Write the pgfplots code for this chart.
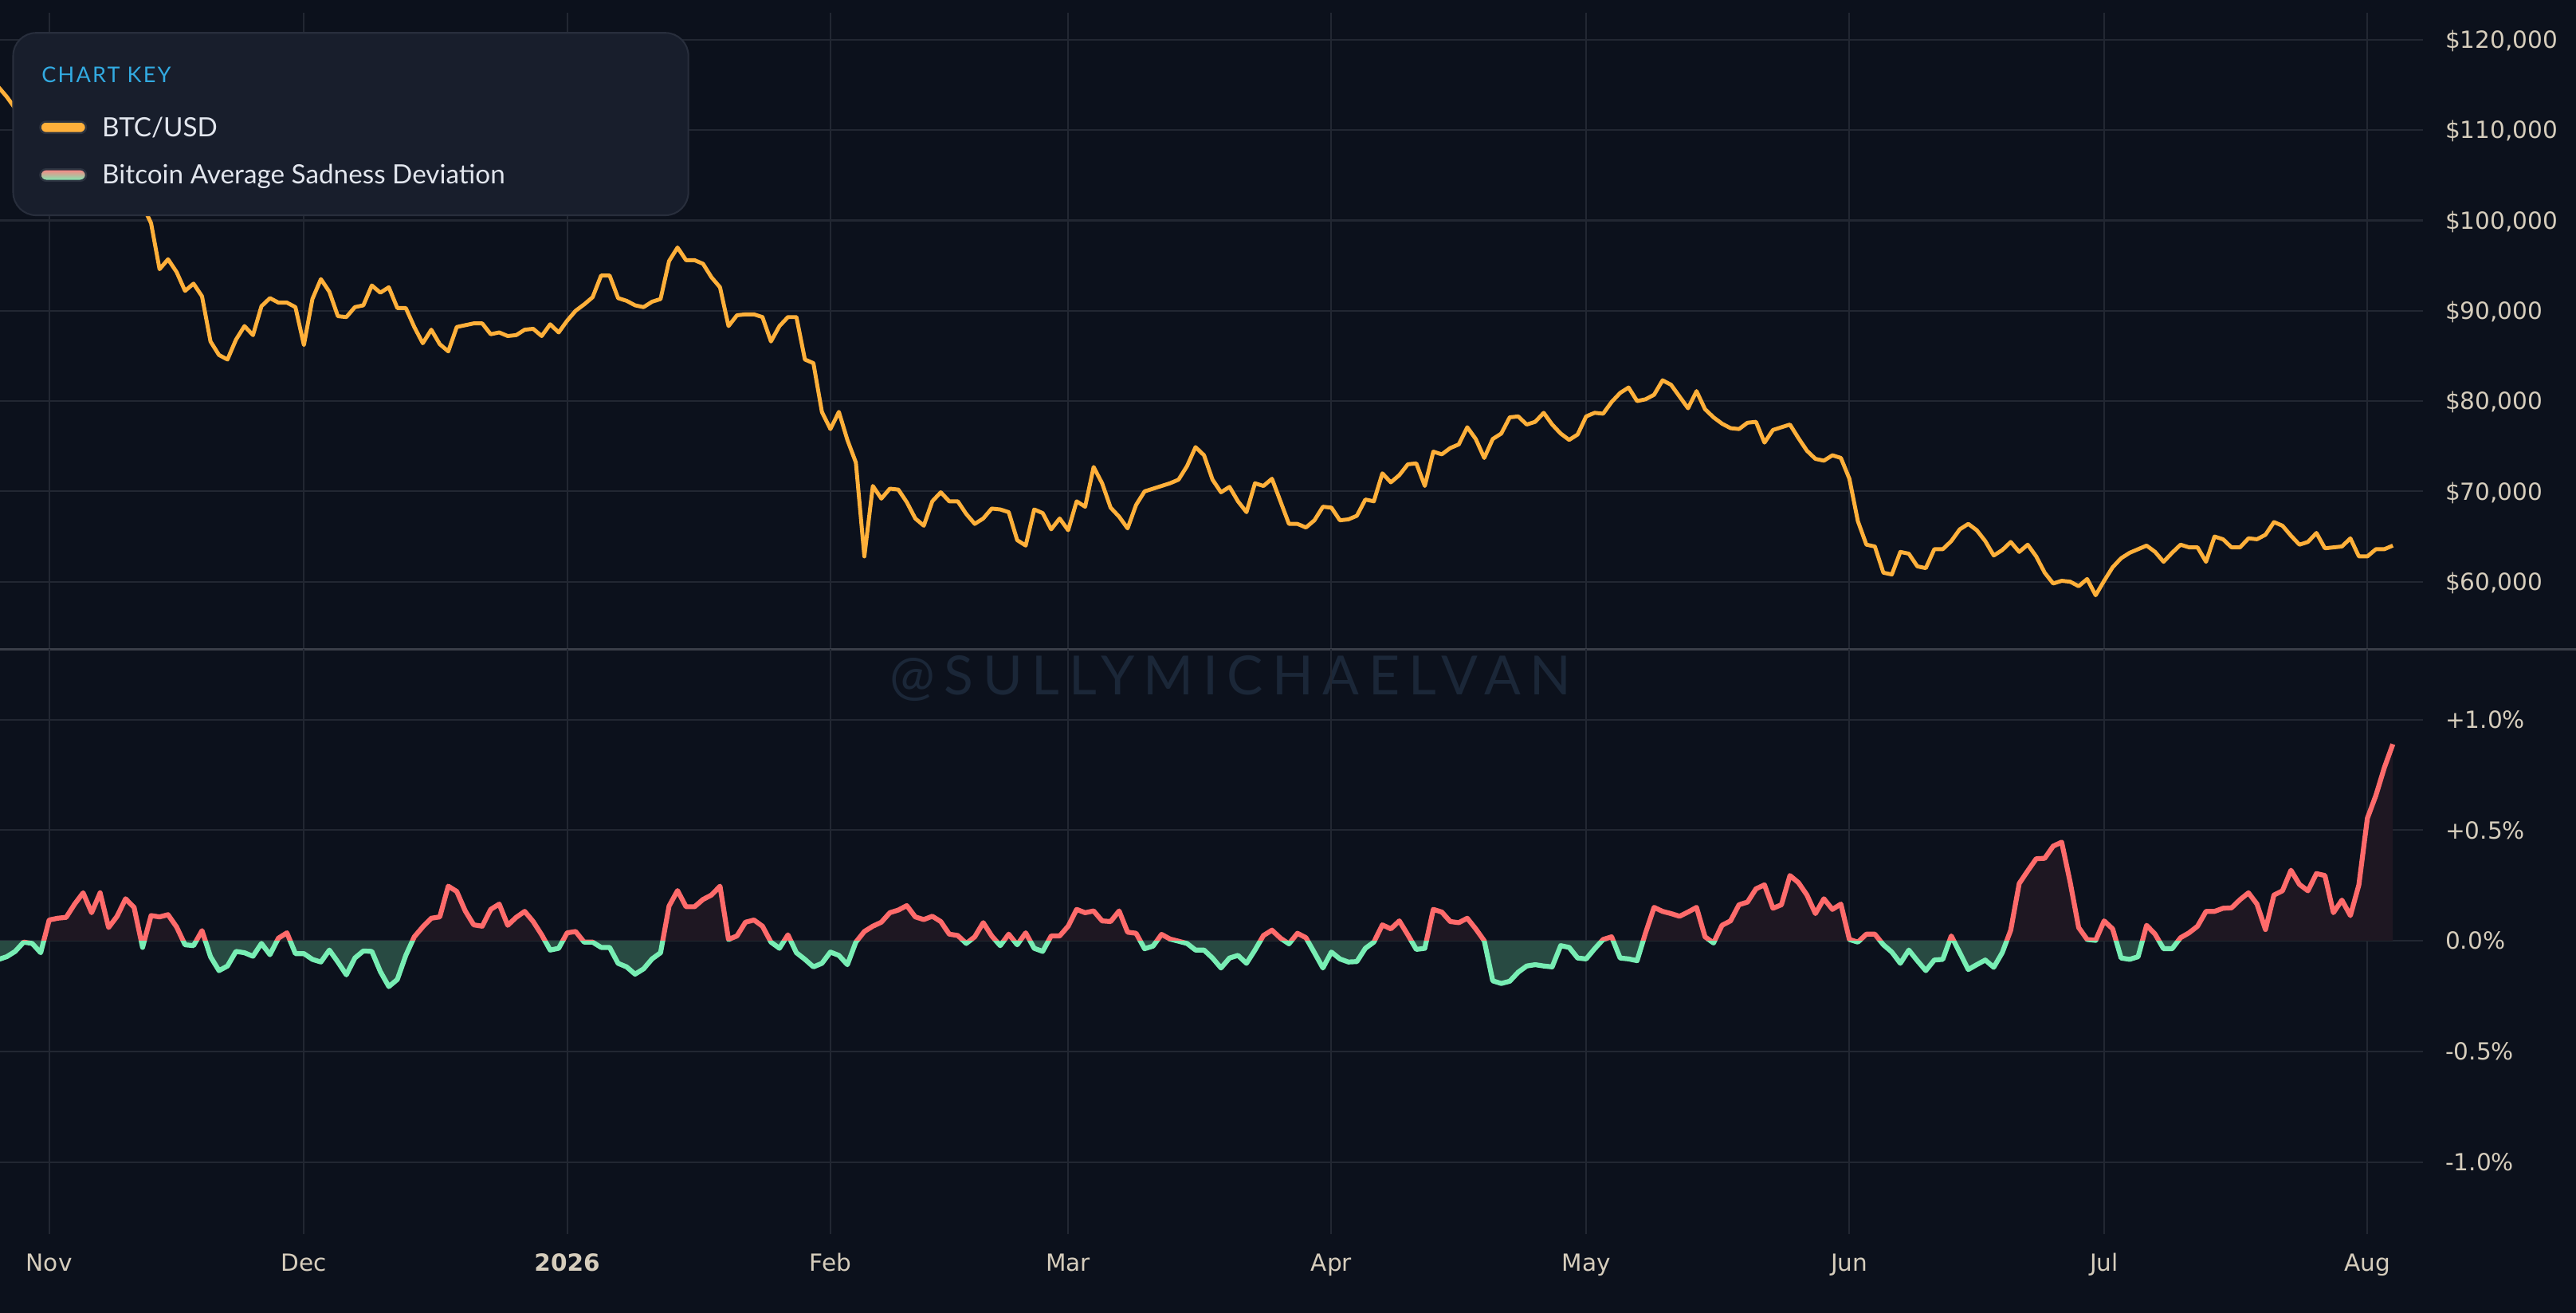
\documentclass[border=0pt]{standalone}
\usepackage{fontspec}
\usepackage{pgfplots}
\usepackage{pgfplotstable}
\pgfplotsset{compat=1.18}
\newfontfamily\tickfont{DejaVu Sans}
\newfontfamily\legfont{Lato}
\definecolor{bgcol}{RGB}{12,17,28}
\definecolor{gridcol}{RGB}{34,39,50}
\definecolor{sepcol}{RGB}{58,62,72}
\definecolor{tickcol}{RGB}{214,205,188}
\definecolor{btccol}{RGB}{255,176,58}
\definecolor{poscol}{RGB}{255,107,107}
\definecolor{negcol}{RGB}{120,238,180}
\definecolor{posfill}{RGB}{30,23,34}
\definecolor{negfill}{RGB}{40,74,66}
\definecolor{legfill}{RGB}{24,30,44}
\definecolor{legborder}{RGB}{40,46,60}
\definecolor{pillborder}{RGB}{44,51,64}
\definecolor{keyblue}{RGB}{50,170,225}
\definecolor{legtext}{RGB}{226,230,238}
\definecolor{wmcol}{RGB}{27,39,56}

\pgfplotstableread{
day price
-6 114.8
-5 113.7
-4 112.4
-3 110.5
-2 109.8
-1 110.2
0 110.1
1 110.6
2 106.5
3 101.8
4 103.9
5 101.8
6 103.3
7 102.3
8 104.7
9 105.9
10 103.0
11 101.7
12 99.7
13 94.6
14 95.7
15 94.3
16 92.2
17 93.0
18 91.6
19 86.6
20 85.1
21 84.6
22 86.8
23 88.3
24 87.3
25 90.5
26 91.4
27 90.9
28 90.9
29 90.4
30 86.2
31 91.3
32 93.5
33 92.1
34 89.4
35 89.3
36 90.4
37 90.6
38 92.8
39 92.0
40 92.6
41 90.3
42 90.3
43 88.2
44 86.4
45 87.9
46 86.3
47 85.5
48 88.2
49 88.4
50 88.6
51 88.6
52 87.4
53 87.6
54 87.2
55 87.3
56 87.9
57 88.0
58 87.2
59 88.5
60 87.6
61 88.9
62 90.0
63 90.7
64 91.5
65 93.9
66 93.9
67 91.4
68 91.1
69 90.6
70 90.4
71 91.0
72 91.3
73 95.5
74 97.0
75 95.6
76 95.6
77 95.2
78 93.7
79 92.6
80 88.3
81 89.5
82 89.6
83 89.6
84 89.3
85 86.6
86 88.3
87 89.3
88 89.3
89 84.6
90 84.2
91 78.8
92 76.9
93 78.8
94 75.7
95 73.2
96 62.8
97 70.6
98 69.2
99 70.3
100 70.2
101 68.8
102 67.0
103 66.2
104 68.9
105 69.9
106 68.9
107 68.9
108 67.5
109 66.4
110 67.0
111 68.1
112 68.0
113 67.7
114 64.6
115 64.0
116 68.0
117 67.6
118 65.8
119 67.0
120 65.7
121 68.9
122 68.3
123 72.7
124 70.9
125 68.2
126 67.2
127 65.9
128 68.5
129 70.0
130 70.3
131 70.6
132 70.9
133 71.3
134 72.8
135 74.9
136 74.0
137 71.3
138 69.9
139 70.5
140 68.9
141 67.7
142 70.9
143 70.6
144 71.4
145 68.9
146 66.4
147 66.4
148 66.0
149 66.8
150 68.3
151 68.2
152 66.8
153 66.9
154 67.3
155 69.1
156 68.9
157 72.0
158 71.0
159 71.8
160 73.0
161 73.1
162 70.6
163 74.4
164 74.1
165 74.8
166 75.2
167 77.1
168 75.8
169 73.7
170 75.8
171 76.4
172 78.2
173 78.3
174 77.4
175 77.7
176 78.7
177 77.4
178 76.4
179 75.7
180 76.3
181 78.3
182 78.7
183 78.6
184 79.9
185 80.9
186 81.5
187 80.0
188 80.2
189 80.7
190 82.3
191 81.8
192 80.5
193 79.2
194 81.1
195 79.1
196 78.2
197 77.5
198 77.0
199 76.9
200 77.6
201 77.7
202 75.4
203 76.8
204 77.1
205 77.4
206 75.9
207 74.5
208 73.6
209 73.4
210 74.0
211 73.7
212 71.4
213 66.7
214 64.1
215 63.9
216 61.0
217 60.8
218 63.3
219 63.1
220 61.7
221 61.5
222 63.6
223 63.6
224 64.5
225 65.8
226 66.4
227 65.7
228 64.5
229 62.9
230 63.5
231 64.4
232 63.3
233 64.1
234 62.8
235 61.0
236 59.8
237 60.1
238 60.0
239 59.5
240 60.3
241 58.5
242 60.1
243 61.6
244 62.6
245 63.2
246 63.6
247 64.0
248 63.3
249 62.2
250 63.2
251 64.1
252 63.8
253 63.8
254 62.2
255 65.0
256 64.7
257 63.8
258 63.8
259 64.8
260 64.7
261 65.2
262 66.6
263 66.2
264 65.1
265 64.1
266 64.4
267 65.4
268 63.7
269 63.8
270 63.9
271 64.8
272 62.8
273 62.8
274 63.6
275 63.6
276 64.0
}\btctab

\pgfplotstableread{
day dev
-6 -0.085
-5 -0.072
-4 -0.048
-3 -0.006
-2 -0.012
-1 -0.054
0 0.094
1 0.102
2 0.106
3 0.166
4 0.217
5 0.127
6 0.217
7 0.060
8 0.111
9 0.190
10 0.151
11 -0.030
12 0.114
13 0.108
14 0.118
15 0.063
16 -0.018
17 -0.022
18 0.046
19 -0.072
20 -0.135
21 -0.114
22 -0.048
23 -0.054
24 -0.070
25 -0.012
26 -0.063
27 0.012
28 0.036
29 -0.058
30 -0.058
31 -0.084
32 -0.096
33 -0.042
34 -0.096
35 -0.154
36 -0.078
37 -0.046
38 -0.048
39 -0.139
40 -0.207
41 -0.175
42 -0.066
43 0.018
44 0.063
45 0.102
46 0.108
47 0.247
48 0.223
49 0.135
50 0.072
51 0.066
52 0.142
53 0.166
54 0.070
55 0.106
56 0.133
57 0.087
58 0.027
59 -0.042
60 -0.034
61 0.036
62 0.042
63 -0.006
64 -0.006
65 -0.030
66 -0.030
67 -0.102
68 -0.118
69 -0.151
70 -0.127
71 -0.082
72 -0.054
73 0.157
74 0.227
75 0.154
76 0.154
77 0.187
78 0.207
79 0.247
80 0.006
81 0.022
82 0.084
83 0.094
84 0.066
85 -0.006
86 -0.034
87 0.027
88 -0.054
89 -0.084
90 -0.118
91 -0.102
92 -0.051
93 -0.066
94 -0.108
95 -0.006
96 0.042
97 0.066
98 0.084
99 0.127
100 0.139
101 0.159
102 0.108
103 0.096
104 0.111
105 0.087
106 0.030
107 0.024
108 -0.012
109 0.018
110 0.082
111 0.022
112 -0.022
113 0.030
114 -0.018
115 0.036
116 -0.034
117 -0.048
118 0.022
119 0.022
120 0.066
121 0.142
122 0.127
123 0.135
124 0.090
125 0.087
126 0.135
127 0.039
128 0.034
129 -0.036
130 -0.024
131 0.029
132 0.008
133 -0.002
134 -0.012
135 -0.042
136 -0.042
137 -0.078
138 -0.123
139 -0.078
140 -0.066
141 -0.102
142 -0.042
143 0.024
144 0.048
145 0.012
146 -0.014
147 0.034
148 0.014
149 -0.054
150 -0.123
151 -0.051
152 -0.082
153 -0.096
154 -0.094
155 -0.034
156 -0.006
157 0.072
158 0.054
159 0.090
160 0.027
161 -0.039
162 -0.034
163 0.142
164 0.130
165 0.087
166 0.082
167 0.102
168 0.054
169 0.000
170 -0.181
171 -0.193
172 -0.183
173 -0.142
174 -0.114
175 -0.108
176 -0.114
177 -0.118
178 -0.022
179 -0.030
180 -0.078
181 -0.082
182 -0.036
183 0.006
184 0.018
185 -0.078
186 -0.082
187 -0.090
188 0.036
189 0.151
190 0.133
191 0.123
192 0.111
193 0.130
194 0.151
195 0.018
196 -0.010
197 0.070
198 0.090
199 0.163
200 0.175
201 0.235
202 0.253
203 0.147
204 0.163
205 0.295
206 0.263
207 0.207
208 0.123
209 0.190
210 0.142
211 0.166
212 0.006
213 -0.006
214 0.030
215 0.030
216 -0.018
217 -0.051
218 -0.102
219 -0.042
220 -0.090
221 -0.135
222 -0.087
223 -0.084
224 0.022
225 -0.054
226 -0.130
227 -0.108
228 -0.087
229 -0.120
230 -0.054
231 0.048
232 0.259
233 0.316
234 0.371
235 0.373
236 0.428
237 0.446
238 0.265
239 0.060
240 0.006
241 0.002
242 0.090
243 0.054
244 -0.078
245 -0.084
246 -0.072
247 0.070
248 0.030
249 -0.036
250 -0.036
251 0.014
252 0.036
253 0.066
254 0.133
255 0.133
256 0.147
257 0.149
258 0.186
259 0.217
260 0.166
261 0.051
262 0.207
263 0.226
264 0.319
265 0.255
266 0.226
267 0.304
268 0.295
269 0.127
270 0.184
271 0.114
272 0.253
273 0.554
274 0.657
275 0.783
276 0.889
}\sadtab

\pgfplotsset{
  basestyle/.style={
    scale only axis,
    width=737.3bp,
    xmin=-5.79, xmax=279.5,
    axis line style={draw=none},
    tick style={draw=none},
    major tick length=0pt,
    xtick={0,30,61,92,120,151,181,212,242,273},
    xmajorgrids, ymajorgrids,
    major grid style={line width=0.5bp, color=gridcol},
    yticklabel pos=right,
    yticklabel style={font=\tickfont\fontsize{7.2}{8}\selectfont, text=tickcol,
      anchor=base west, inner sep=0pt, xshift=6.75bp, yshift=-2.6bp},
    xticklabel style={font=\tickfont\fontsize{7.2}{8}\selectfont, text=tickcol,
      anchor=base, inner sep=0pt, yshift=-11.25bp},
  },
  halfstyle/.style={
    scale only axis,
    width=737.3bp,
    xmin=-5.79, xmax=279.5,
    hide axis,
    clip=true,
  }
}

\begin{document}
\begin{tikzpicture}
\useasboundingbox (0,0) rectangle (784bp,-399.5bp);
\fill[bgcol] (-2bp,2bp) rectangle (786bp,-401.5bp);

\begin{axis}[basestyle,
  at={(0,-4bp)}, anchor=north west,
  height=193.5bp,
  ymin=52.54, ymax=122.95,
  ytick={60,70,80,90,100,110,120},
  yticklabels={{\$60,000},{\$70,000},{\$80,000},{\$90,000},{\$100,000},{\$110,000},{\$120,000}},
  xticklabel=\empty,
]
\addplot[btccol, line width=1.2bp, line join=round] table[x=day, y=price] {\btctab};
\end{axis}

\draw[sepcol, line width=0.75bp] (-2bp,-197.5bp) -- (786bp,-197.5bp);
\node[text=wmcol, font=\legfont\fontsize{16.5}{18}\selectfont\addfontfeatures{LetterSpace=17}, inner sep=0pt] at (374.5bp,-206.5bp) {@SULLYMICHAELVAN};

% bottom panel: grid and labels
\begin{axis}[basestyle,
  at={(0,-197.5bp)}, anchor=north west,
  height=178bp,
  ymin=-1.326, ymax=1.319,
  ytick={-1,-0.5,0,0.5,1},
  yticklabels={{-1.0\%},{-0.5\%},{0.0\%},{+0.5\%},{+1.0\%}},
  xticklabels={Nov,Dec,\textbf{2026},Feb,Mar,Apr,May,Jun,Jul,Aug},
]
\addplot[draw=none] coordinates {(0,0)};
\end{axis}

% positive half (clipped at zero)
\begin{axis}[halfstyle,
  at={(0,-197.5bp)}, anchor=north west,
  height=88.76bp,
  ymin=0, ymax=1.319,
]
\addplot[draw=none, fill=posfill] table[x=day, y=dev] {\sadtab} \closedcycle;
\addplot[poscol, line width=1.5bp, line join=round] table[x=day, y=dev] {\sadtab};
\end{axis}

% negative half (clipped at zero)
\begin{axis}[halfstyle,
  at={(0,-286.26bp)}, anchor=north west,
  height=89.24bp,
  ymin=-1.326, ymax=0,
]
\addplot[draw=none, fill=negfill] table[x=day, y=dev] {\sadtab} \closedcycle;
\addplot[negcol, line width=1.5bp, line join=round] table[x=day, y=dev] {\sadtab};
\end{axis}

% legend (chart key)
\draw[fill=legfill, draw=legborder, line width=0.5bp, rounded corners=7bp] (4bp,-10bp) rectangle (209.5bp,-65.5bp);
\node[anchor=base west, inner sep=0pt, text=keyblue, font=\legfont\fontsize{6.6}{8}\selectfont\addfontfeatures{LetterSpace=8}] at (12.5bp,-25bp) {CHART KEY};
\draw[fill=btccol, draw=pillborder, line width=0.6bp, rounded corners=1.75bp] (12.25bp,-37bp) rectangle (26.2bp,-40.5bp);
\node[anchor=base west, inner sep=0pt, text=legtext, font=\legfont\fontsize{8.1}{10}\selectfont] at (30.9bp,-41.5bp) {BTC/USD};
\shade[top color=poscol!85!white, bottom color=negcol, rounded corners=1.75bp] (12.25bp,-51.5bp) rectangle (26.2bp,-55bp);
\draw[draw=pillborder, line width=0.6bp, rounded corners=1.75bp] (12.25bp,-51.5bp) rectangle (26.2bp,-55bp);
\node[anchor=base west, inner sep=0pt, text=legtext, font=\legfont\fontsize{8.1}{10}\selectfont] at (30.9bp,-55.8bp) {Bitcoin Average Sadness Deviation};
\end{tikzpicture}
\end{document}
